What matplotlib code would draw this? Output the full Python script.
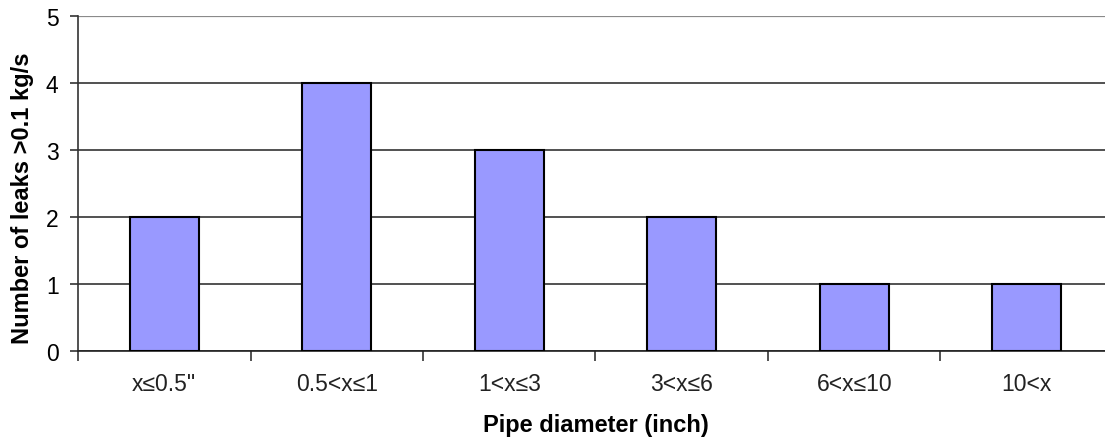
import matplotlib.pyplot as plt
import numpy as np

plt.rcParams['font.family'] = ['Liberation Sans', 'DejaVu Sans']

# pipe diameter classes and number of leaks in each
categories = ['x\u22640.5"', '0.5<x\u22641', '1<x\u22643', '3<x\u22646', '6<x\u226410', '10<x']
leaks = [2, 4, 3, 2, 1, 1]

fig = plt.figure(figsize=(11.05, 4.39), dpi=100)
# the right edge of the plot area runs off the picture, as in the original
ax = fig.add_axes([0.0706, 0.198, 0.9366, 0.763])

x = np.arange(len(categories))
ax.bar(x, leaks, width=0.4, color='#9999FF', edgecolor='black', linewidth=1.5, zorder=3)

ax.set_xlim(-0.5, len(categories) - 0.5)
ax.set_ylim(0, 5)
ax.set_yticks(range(0, 6))
ax.yaxis.grid(True, color='#333333', linewidth=1.2, zorder=0)
# the top line is the plot border and looks lighter in the original
ax.get_ygridlines()[-1].set_color('#8a8a8a')
ax.get_ygridlines()[-1].set_linewidth(1.6)

# category boundaries get the tick marks, labels sit in between
ax.set_xticks(np.arange(-0.5, len(categories), 1))
ax.set_xticklabels([])
ax.set_xticks(x, minor=True)
ax.set_xticklabels(categories, minor=True)
ax.tick_params(axis='x', which='minor', length=0, pad=15, labelsize=16.5, labelcolor='#222222')
ax.tick_params(axis='x', which='major', length=7, width=1.2, color='#333333')
ax.tick_params(axis='y', length=6, width=1.2, color='#333333', labelsize=16.5, pad=8)

for s in ['top', 'right']:
    ax.spines[s].set_visible(False)
ax.spines['left'].set_color('#333333')
ax.spines['left'].set_linewidth(1.2)
ax.spines['bottom'].set_color('#222222')
ax.spines['bottom'].set_linewidth(1.2)

ax.set_xlabel('Pipe diameter (inch)', fontsize=17, fontweight='bold', va='center')
ax.set_ylabel('Number of leaks >0.1 kg/s', fontsize=17, fontweight='bold', va='center')
ax.xaxis.set_label_coords(0.5, -0.218)
ax.yaxis.set_label_coords(-0.054, 0.46)

fig.savefig('out.png', dpi=100)
